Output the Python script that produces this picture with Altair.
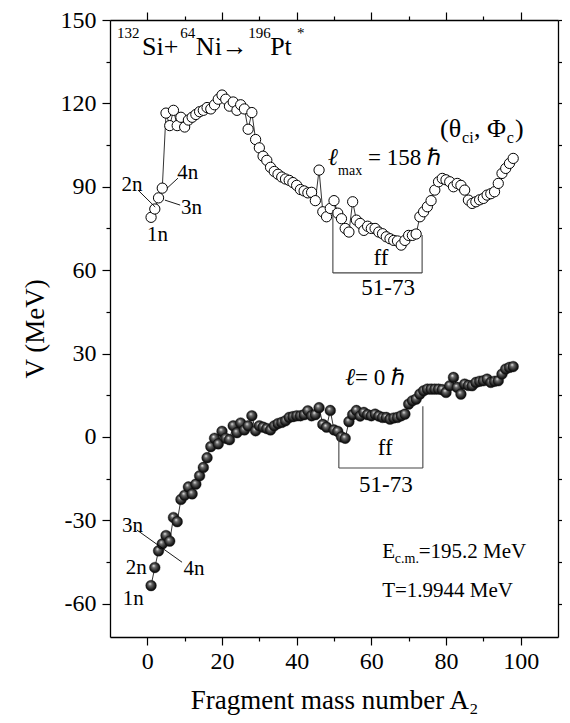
import altair as alt
import pandas as pd

# ---------------- data ----------------
A_upper = list(range(1, 99))
V_upper = [79, 82, 86, 89.5, 116.5, 112, 117.5, 112, 115, 111.5,
           114, 115, 116, 117, 117.5, 118.5, 118, 119.5, 121.5, 123,
           121.5, 119, 120.5, 117.5, 119.5, 118, 110.7, 116.7, 107, 104,
           101, 99.5, 97, 95.5, 94.5, 93.5, 92.8, 92.3, 91.5, 90.5,
           89, 88.5, 87.8, 88, 85, 96, 81, 79.2, 82.2, 85,
           80.5, 78.5, 75, 73.7, 84.6, 78, 76.8, 74.3, 75.8, 75,
           75, 73.7, 73.1, 72, 71.3, 70.7, 70.5, 69, 70.7, 72.5,
           72.5, 73, 79.2, 81, 82.8, 85, 88.8, 91.8, 93, 92.5,
           91.8, 90, 91.2, 90.5, 88.8, 85.2, 84, 84.6, 85.3, 85.8,
           87, 87.5, 88.2, 91.2, 94.8, 96.6, 98.4, 100.2]

A_lower = list(range(1, 99))
V_lower = [-53.5, -47, -41, -38.5, -35.5, -37.5, -29, -30.5, -22.5, -21,
           -18, -20.5, -17, -14, -11, -7.5, -3.5, -0.5, -2.5, 2,
           -0.5, -1, 4, 1.5, 5, 2.5, 4, 7.6, 2.2, 4,
           3.5, 3, 2.5, 4, 4.8, 5.2, 5.8, 7, 7.3, 7.6,
           7.6, 8, 9.4, 7.6, 8, 10.5, 4.5, 3.5, 9.5, 2.5,
           2, 0, -0.5, 5.5, 8, 9.5, 7.5, 8.8, 8, 7.6,
           8.2, 7.5, 7, 7, 6.4, 6.8, 7, 7.6, 8.2, 11.8,
           13, 13.6, 15.4, 16.6, 17.2, 17.2, 17.2, 17.2, 17, 16,
           18.4, 21.4, 17.8, 15.4, 19, 18.5, 18.4, 19.6, 20, 20.2,
           20.8, 19.6, 20, 20.2, 22.6, 24.4, 25, 25.3]

x_ticks = list(range(0, 101, 10))
y_ticks = list(range(-60, 151, 15))

# centred annotation texts
ann_text = ["1n", "2n", "3n", "4n", "1n", "2n", "3n", "4n",
            "ff", "51-73", "ff", "51-73"]
ann_A = [2.7, -4.1, 11.8, 10.8, -3.8, -3.0, -4.0, 12.5,
         62.6, 64.5, 63.7, 63.9]
ann_V = [72.5, 90.6, 82.2, 95.1, -58.5, -47.0, -31.9, -47.7,
         64.4, 53.6, -4.0, -17.3]
ann_fs = [21, 21, 21, 21, 21, 21, 21, 21,
          23, 23, 23, 23]

# italic ell symbols (left aligned, alphabetic baseline)
ell_text = ["ℓ", "ℓ"]
ell_A = [48.4, 53.0]
ell_V = [97.8, 18.7]

# left-aligned pieces (title, angle labels, energy labels, ell labels)
left_text = ["132", "Si+", "64", "Ni→", "196", "Pt", "*",
             "(θ", "ci", ", Φ", "c", ")",
             "E", "c.m.", "=195.2 MeV", "T=1.9944 MeV",
             "max", "= 158 ℏ", "= 0 ℏ"]
left_A = [-8.1, -1.4, 8.8, 13.0, 27.0, 32.9, 40.1,
          78.4, 84.3, 87.5, 96.3, 98.5,
          62.9, 66.3, 72.7, 62.9,
          51.1, 59.1, 55.6]
left_V = [143.5, 137.4, 143.5, 137.4, 143.5, 137.4, 143.5,
          107.9, 105.8, 107.9, 105.8, 107.9,
          -43.6, -45.2, -43.6, -57.6,
          94.2, 97.8, 18.7]
left_fs = [15, 26, 15, 26, 15, 26, 15,
           26, 16, 26, 16, 26,
           21, 14, 21, 21,
           14, 23, 23]

# leader lines from n-labels
lead_A = [-2.5, 8.2, 8.8, -2.8]
lead_A2 = [2.1, 5.3, 4.7, 9.3]
lead_V = [88.8, 93.1, 83.4, -33.5]
lead_V2 = [82.7, 89.5, 85.2, -45.1]

# fission-fragment brackets
br_A = [49.7, 49.7, 73.6, 51.3, 51.3, 73.8]
br_A2 = [49.7, 73.6, 73.6, 51.3, 73.8, 73.8]
br_V = [81.6, 59.0, 59.0, 0.7, -11.2, -11.2]
br_V2 = [59.0, 59.0, 72.6, -11.2, -11.2, 11.0]

# ---------------- tables ----------------
df_up = pd.DataFrame({"A": A_upper, "V": V_upper})
df_lo = pd.DataFrame({"A": A_lower, "V": V_lower})
df_ann = pd.DataFrame({"A": ann_A, "V": ann_V, "t": ann_text, "fs": ann_fs})
df_ell = pd.DataFrame({"A": ell_A, "V": ell_V, "t": ell_text})
df_left = pd.DataFrame({"A": left_A, "V": left_V, "t": left_text, "fs": left_fs})
df_lead = pd.DataFrame({"A": lead_A, "A2": lead_A2, "V": lead_V, "V2": lead_V2})
df_br = pd.DataFrame({"A": br_A, "A2": br_A2, "V": br_V, "V2": br_V2})

FONT = "Liberation Serif"

xs = alt.Scale(domain=[-10, 110], nice=False, zero=False)
ys = alt.Scale(domain=[-72, 150], nice=False, zero=False)

tick_x = {"condition": {"test": "datum.value % 20 === 0", "value": 8}, "value": 4}
tick_y = {"condition": {"test": "datum.value % 30 === 0", "value": 8}, "value": 4}

common = dict(grid=False, domainColor="black", domainWidth=1.3,
              tickColor="black", tickWidth=1.2, labelOverlap=False)

ax_bottom = alt.Axis(orient="bottom", values=x_ticks, tickSize=tick_x,
                     labelExpr="datum.value % 20 === 0 ? '' + datum.value : ''",
                     labelFontSize=24, labelPadding=4, labelFont=FONT, labelColor="black",
                     title="Fragment mass number A₂", titleFontSize=27, titleFont=FONT,
                     titleFontWeight="normal", titleColor="black", titlePadding=14,
                     **common)
ax_left = alt.Axis(orient="left", values=y_ticks, tickSize=tick_y,
                   labelExpr="datum.value % 30 === 0 ? '' + datum.value : ''",
                   labelFontSize=24, labelPadding=6, labelFont=FONT, labelColor="black",
                   title="V (MeV)", titleFontSize=27, titleFont=FONT,
                   titleFontWeight="normal", titleColor="black", titlePadding=11,
                   **common)
ax_top = alt.Axis(orient="top", values=x_ticks, tickSize=tick_x, labels=False,
                  title=None, **common)
ax_right = alt.Axis(orient="right", values=y_ticks, tickSize=tick_y, labels=False,
                    title=None, **common)

sphere_fill = {
    "gradient": "radial",
    "x1": 0.38, "y1": 0.32, "r1": 0.0,
    "x2": 0.5, "y2": 0.5, "r2": 0.55,
    "stops": [
        {"offset": 0.0, "color": "#f4f4f4"},
        {"offset": 0.3, "color": "#6a6a6a"},
        {"offset": 0.75, "color": "#1a1a1a"},
        {"offset": 1.0, "color": "#000000"},
    ],
}

up_line = alt.Chart(df_up).mark_line(color="black", strokeWidth=0.8).encode(
    x=alt.X("A:Q", scale=xs, axis=ax_bottom),
    y=alt.Y("V:Q", scale=ys, axis=ax_left),
)
up_pts = alt.Chart(df_up).mark_point(
    shape="circle", filled=True, fill="white", stroke="black",
    strokeWidth=1, size=105, opacity=1
).encode(
    x=alt.X("A:Q", scale=xs, axis=ax_top),
    y=alt.Y("V:Q", scale=ys, axis=ax_right),
)
lo_line = alt.Chart(df_lo).mark_line(color="black", strokeWidth=0.8).encode(
    x=alt.X("A:Q", scale=xs, axis=None),
    y=alt.Y("V:Q", scale=ys, axis=None),
)
lo_pts = alt.Chart(df_lo).mark_point(
    shape="circle", filled=True, fill=sphere_fill, stroke="#111111",
    strokeWidth=0.4, size=115, opacity=1
).encode(
    x=alt.X("A:Q", scale=xs, axis=None),
    y=alt.Y("V:Q", scale=ys, axis=None),
)

brackets = alt.Chart(df_br).mark_rule(color="#444444", strokeWidth=1.1).encode(
    x=alt.X("A:Q", scale=xs, axis=None), x2="A2:Q",
    y=alt.Y("V:Q", scale=ys, axis=None), y2="V2:Q",
)
leaders = alt.Chart(df_lead).mark_rule(color="black", strokeWidth=0.9).encode(
    x=alt.X("A:Q", scale=xs, axis=None), x2="A2:Q",
    y=alt.Y("V:Q", scale=ys, axis=None), y2="V2:Q",
)

ann = alt.Chart(df_ann).mark_text(font=FONT, align="center", baseline="middle",
                                  color="black").encode(
    x=alt.X("A:Q", scale=xs, axis=None),
    y=alt.Y("V:Q", scale=ys, axis=None),
    text="t:N",
    size=alt.Size("fs:Q", scale=None, legend=None),
)
ell = alt.Chart(df_ell).mark_text(font=FONT, align="left", baseline="alphabetic",
                                  fontStyle="italic", fontSize=24,
                                  color="black").encode(
    x=alt.X("A:Q", scale=xs, axis=None),
    y=alt.Y("V:Q", scale=ys, axis=None),
    text="t:N",
)
left = alt.Chart(df_left).mark_text(font=FONT, align="left", baseline="alphabetic",
                                    color="black").encode(
    x=alt.X("A:Q", scale=xs, axis=None),
    y=alt.Y("V:Q", scale=ys, axis=None),
    text="t:N",
    size=alt.Size("fs:Q", scale=None, legend=None),
)

chart = alt.layer(
    up_line, up_pts, lo_line, lo_pts, brackets, leaders, ann, ell, left
).resolve_axis(
    x="independent", y="independent"
).properties(
    width=448, height=617,
    padding={"left": 102, "top": 12, "right": 4, "bottom": 78},
    autosize=alt.AutoSizeParams(type="none"),
    background="white",
).configure_view(stroke=None)

chart.save("out.html", embed_options={"renderer": "svg", "actions": False})
